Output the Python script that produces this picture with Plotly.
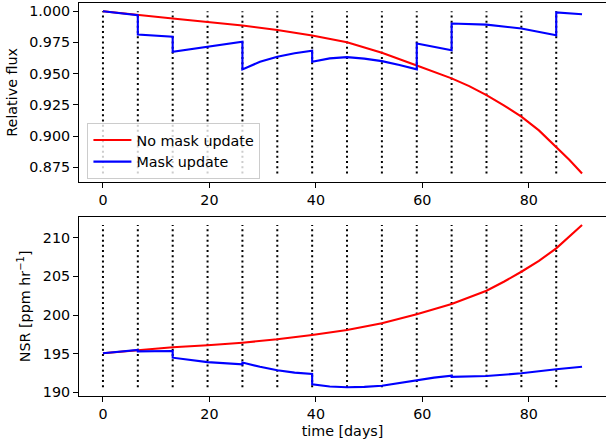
import plotly.graph_objects as go
from plotly.subplots import make_subplots

# mask update epochs (days)
update_times = [0, 6.55, 13.1, 19.65, 26.2, 32.75, 39.3, 45.85, 52.4, 58.95, 65.5, 72.05, 78.6, 85.15]

# Relative flux, no mask update
t_flux_red = [0, 6.55, 13.1, 19.65, 26.2, 32.75, 39.3, 45.85, 52.4, 58.95, 62.2, 65.5, 68.8, 72.05, 75.3, 78.6, 81.9, 85.15, 87.6, 90]
flux_red = [1.0, 0.9968, 0.9942, 0.9914, 0.9886, 0.9850, 0.9806, 0.9752, 0.9667, 0.9566, 0.9516, 0.9462, 0.9400, 0.9328, 0.9246, 0.9155, 0.9045, 0.8915, 0.8810, 0.8700]

# Relative flux, mask update
t_flux_blue = [0, 3.3, 6.55, 6.55, 13.1, 13.1, 19.65, 26.2, 26.2, 29.5, 32.75, 36.0, 39.3, 39.3, 42.6, 45.85, 49.1, 52.4, 55.7, 58.95, 58.95, 65.5, 65.5, 72.05, 78.6, 85.15, 85.15, 90]
flux_blue = [1.0, 0.9985, 0.9968, 0.9813, 0.9795, 0.9675, 0.9717, 0.9755, 0.9534, 0.9595, 0.9635, 0.9663, 0.9683, 0.9595, 0.9622, 0.9632, 0.9620, 0.9600, 0.9570, 0.9534, 0.9742, 0.9688, 0.9902, 0.9893, 0.9862, 0.9808, 0.9990, 0.9976]

# NSR, no mask update
t_nsr_red = [0, 6.55, 13.1, 19.65, 26.2, 32.75, 39.3, 45.85, 52.4, 58.95, 65.5, 72.05, 75.3, 78.6, 81.9, 85.15, 87.6, 90]
nsr_red = [195.05, 195.47, 195.82, 196.08, 196.42, 196.86, 197.41, 198.06, 198.93, 200.09, 201.42, 203.14, 204.30, 205.60, 207.00, 208.63, 210.10, 211.64]

# NSR, mask update
t_nsr_blue = [0, 6.55, 6.55, 13.1, 13.1, 19.65, 26.2, 26.2, 29.5, 32.75, 36.0, 39.3, 39.3, 42.6, 45.85, 49.1, 52.4, 55.7, 58.95, 62.2, 65.5, 65.5, 72.05, 78.6, 85.15, 90]
nsr_blue = [195.05, 195.47, 195.30, 195.35, 194.48, 193.90, 193.62, 193.85, 193.30, 192.85, 192.55, 192.37, 191.03, 190.75, 190.65, 190.70, 190.85, 191.20, 191.59, 191.90, 192.15, 192.00, 192.10, 192.46, 192.98, 193.31]

x_ticks = [0, 20, 40, 60, 80]
flux_ticks = [0.875, 0.900, 0.925, 0.950, 0.975, 1.000]
nsr_ticks = [190, 195, 200, 205, 210]

FONT = "DejaVu Sans"
FS = 14.3

fig = make_subplots(rows=2, cols=1, vertical_spacing=0.0891)
fig.update_yaxes(domain=[0.5453, 1.0], row=1, col=1)
fig.update_yaxes(domain=[0.0, 0.4562], row=2, col=1)


def vlines(ymin, ymax):
    xs, ys = [], []
    for t in update_times:
        xs += [t, t, None]
        ys += [ymin, ymax, None]
    return xs, ys


all_flux = flux_red + flux_blue
xs, ys = vlines(min(all_flux), max(all_flux))
fig.add_trace(go.Scatter(x=xs, y=ys, mode="lines", showlegend=False,
                         line=dict(color="black", width=2, dash="2px,3.2px")), row=1, col=1)
all_nsr = nsr_red + nsr_blue
xs, ys = vlines(min(all_nsr), max(all_nsr))
fig.add_trace(go.Scatter(x=xs, y=ys, mode="lines", showlegend=False,
                         line=dict(color="black", width=2, dash="2px,3.2px")), row=2, col=1)

fig.add_trace(go.Scatter(x=t_flux_red, y=flux_red, mode="lines", name="No mask update",
                         line=dict(color="red", width=2.1)), row=1, col=1)
fig.add_trace(go.Scatter(x=t_flux_blue, y=flux_blue, mode="lines", name="Mask update",
                         line=dict(color="blue", width=2.1)), row=1, col=1)
fig.add_trace(go.Scatter(x=t_nsr_red, y=nsr_red, mode="lines", showlegend=False,
                         line=dict(color="red", width=2.1)), row=2, col=1)
fig.add_trace(go.Scatter(x=t_nsr_blue, y=nsr_blue, mode="lines", showlegend=False,
                         line=dict(color="blue", width=2.1)), row=2, col=1)

axis_common = dict(showline=True, linecolor="black", linewidth=1, mirror=True,
                   ticks="outside", ticklen=5, tickwidth=1, tickcolor="black",
                   showgrid=False, zeroline=False,
                   tickfont=dict(family=FONT, size=FS, color="black"))

fig.update_xaxes(range=[-4.5, 94.5], tickvals=x_ticks, **axis_common)
fig.update_xaxes(title=dict(text="time [days]", font=dict(family=FONT, size=FS, color="black"), standoff=4), row=2, col=1)
fig.update_yaxes(range=[0.8634, 1.0066], tickvals=flux_ticks, tickformat=".3f",
                 title=dict(text="Relative flux", font=dict(family=FONT, size=FS, color="black"), standoff=8),
                 row=1, col=1, **axis_common)
fig.update_yaxes(range=[189.52, 212.72], tickvals=nsr_ticks,
                 title=dict(text="NSR [ppm hr<sup>−1</sup>]", font=dict(family=FONT, size=FS, color="black"), standoff=8),
                 row=2, col=1, **axis_common)

fig.update_layout(
    width=606, height=446,
    margin=dict(l=79, r=0, t=3, b=50),
    paper_bgcolor="white", plot_bgcolor="white",
    font=dict(family=FONT, size=FS, color="black"),
    legend=dict(x=0.016, y=0.694, xanchor="left", yanchor="top",
                bgcolor="rgba(255,255,255,0.8)", bordercolor="#cccccc", borderwidth=1,
                font=dict(family=FONT, size=FS, color="black"),
                itemwidth=38, tracegroupgap=0),
)

fig.write_html("out.html")
